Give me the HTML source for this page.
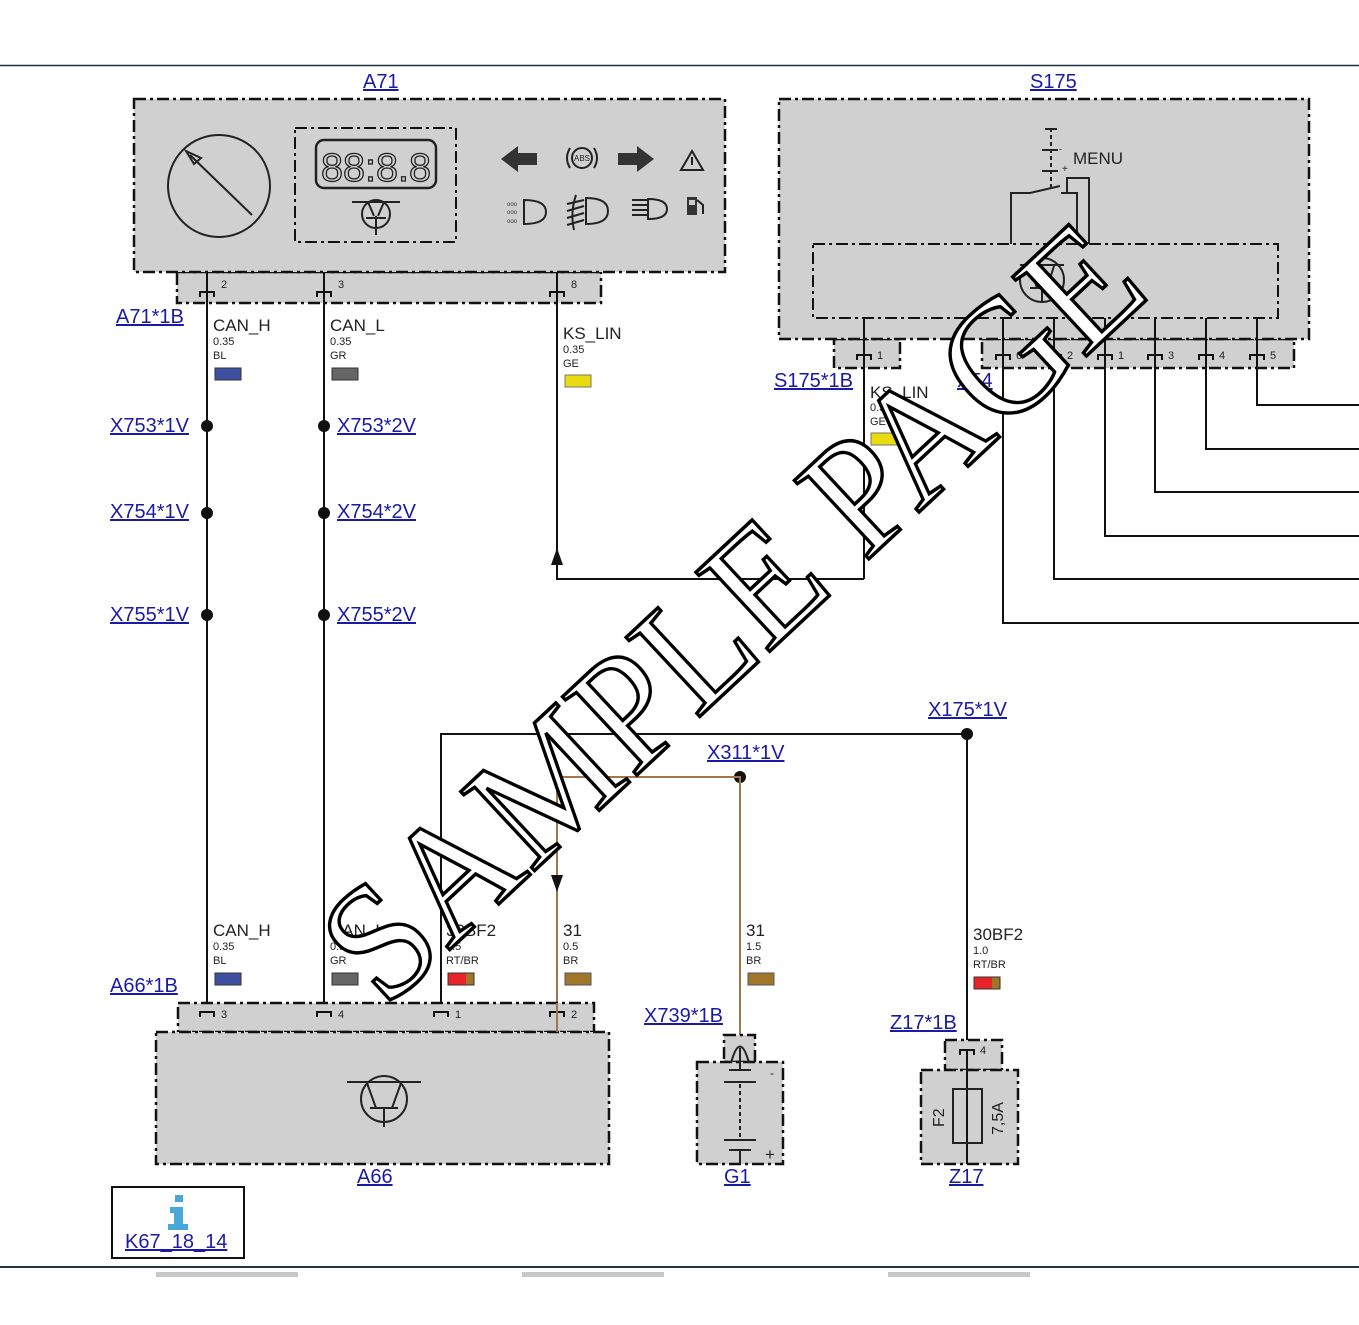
<!DOCTYPE html>
<html><head><meta charset="utf-8">
<style>
html,body{margin:0;padding:0;background:#fff;}
svg{display:block;}
.sf{font-family:"Liberation Sans",sans-serif;}
.lk{fill:#1a1aa8;font-size:20px;text-decoration:underline;}
.wn{font-size:17px;fill:#222;}
.ws{font-size:11px;fill:#222;}
.pn{font-size:11px;fill:#222;}
.box{fill:#d0d0d0;stroke:#111;stroke-width:2.5;stroke-dasharray:12 4 3 4;}
.w{stroke:#111;stroke-width:2;fill:none;}
.br{stroke:#a0764a;stroke-width:2;fill:none;}
.sym{stroke:#222;stroke-width:2;fill:none;}
</style></head>
<body>
<svg width="1359" height="1325" viewBox="0 0 1359 1325" xmlns="http://www.w3.org/2000/svg" font-family="Liberation Sans, sans-serif">
<rect width="1359" height="1325" fill="#fff"/>
<line x1="0" y1="65.5" x2="1359" y2="65.5" stroke="#1e2e3a" stroke-width="1.5"/>
<line x1="0" y1="1267" x2="1359" y2="1267" stroke="#1e3a3a" stroke-width="2"/>
<rect x="156" y="1272" width="142" height="5" fill="#c8c8c8"/>
<rect x="522" y="1272" width="142" height="5" fill="#c8c8c8"/>
<rect x="888" y="1272" width="142" height="5" fill="#c8c8c8"/>

<!-- A71 -->
<text class="lk" x="363" y="88">A71</text>
<rect class="box" x="177" y="272" width="424" height="31"/>
<rect class="box" x="134" y="99" width="591" height="173"/>
<circle cx="219" cy="186" r="51" class="sym"/>
<line x1="252" y1="215" x2="190" y2="155" class="sym"/>
<path d="M186 151 L201 158 L194 164 Z" class="sym" fill="none"/>
<rect x="295" y="128" width="161" height="114" fill="none" stroke="#111" stroke-width="2" stroke-dasharray="12 4 3 4"/>
<rect x="316" y="140" width="120" height="48" rx="8" fill="none" stroke="#222" stroke-width="2.5"/>
<text x="321" y="181" font-size="40" font-family="Liberation Sans Narrow, Liberation Sans, sans-serif" fill="none" stroke="#222" stroke-width="1.3" textLength="110" lengthAdjust="spacingAndGlyphs">88:8.8</text>
<circle cx="376" cy="214" r="14" class="sym"/>
<line x1="352" y1="202" x2="400" y2="202" class="sym"/>
<line x1="368" y1="202" x2="374" y2="216" class="sym"/>
<line x1="384" y1="202" x2="378" y2="216" class="sym"/>
<line x1="376" y1="216" x2="376" y2="235" class="sym"/>
<line x1="366" y1="218" x2="386" y2="218" class="sym"/>
<!-- icons -->
<path d="M501 159 L518 146 L518 153 L537 153 L537 165 L518 165 L518 172 Z" fill="#333"/>
<path d="M654 159 L637 146 L637 153 L618 153 L618 165 L637 165 L637 172 Z" fill="#333"/>
<circle cx="582" cy="158" r="10" class="sym" stroke-width="1.5"/>
<text x="574" y="161" font-size="8" fill="#222">ABS</text>
<path d="M570 148 Q564 158 570 168 M594 148 Q600 158 594 168" class="sym" stroke-width="1.5"/>
<path d="M692 151 L703 170 L681 170 Z" class="sym" stroke-width="1.5"/>
<line x1="692" y1="157" x2="692" y2="165" class="sym" stroke-width="1.5"/>
<path d="M524 200 Q546 200 546 212 Q546 224 524 224 Z" class="sym" stroke-width="1.8"/>
<text x="507" y="206" font-size="6" fill="#333">ooo</text><text x="507" y="214" font-size="6" fill="#333">ooo</text><text x="507" y="223" font-size="6" fill="#333">ooo</text>
<path d="M586 198 Q608 198 608 211 Q608 224 586 224 Z" class="sym" stroke-width="1.8"/>
<path d="M567 204 L584 200 M567 211 L584 206 M567 218 L584 213 M567 225 L584 220 M576 195 Q570 212 574 230" class="sym" stroke-width="1.5"/>
<path d="M648 199 Q667 199 667 209 Q667 219 648 219 Z" class="sym" stroke-width="1.8"/>
<path d="M632 200 H648 M632 205 H648 M632 210 H648 M632 215 H648" class="sym" stroke-width="1.5"/>
<rect x="687" y="197" width="10" height="18" fill="#333"/>
<rect x="689" y="200" width="6" height="5" fill="#ccc"/>
<path d="M697 200 L703 205 L703 214" class="sym" stroke-width="1.5"/>
<!-- pins A71 -->
<g class="w">
<path d="M200 297 V292 H214 V297"/><path d="M317 297 V292 H331 V297"/><path d="M550 297 V292 H564 V297"/>
</g>
<text class="pn" x="221" y="288">2</text><text class="pn" x="338" y="288">3</text><text class="pn" x="571" y="288">8</text>
<text class="lk" x="116" y="323">A71*1B</text>

<!-- S175 -->
<text class="lk" x="1030" y="88">S175</text>
<rect class="box" x="834" y="339" width="66" height="29"/>
<rect class="box" x="982" y="339" width="312" height="29"/>
<rect class="box" x="779" y="99" width="530" height="240"/>
<rect x="813" y="244" width="465" height="74" fill="none" stroke="#111" stroke-width="2" stroke-dasharray="12 4 3 4"/>
<line x1="1051" y1="128" x2="1051" y2="188" stroke="#222" stroke-width="2" stroke-dasharray="4 3"/>
<path d="M1045 129 H1057 M1042 150 H1058 M1042 171 H1058" class="sym"/>
<text x="1059" y="152" font-size="9" fill="#222">-</text><text x="1062" y="172" font-size="10" fill="#222">+</text>
<text x="1073" y="164" font-size="17" fill="#222">MENU</text>
<path d="M1011 244 V193 H1030 L1060 186 M1067 193 V178 H1089 V244 M1061 193 H1077 V244" class="sym"/>
<circle cx="1042" cy="280" r="22" class="sym"/>
<line x1="1020" y1="265" x2="1064" y2="265" class="sym"/>
<line x1="1030" y1="266" x2="1037" y2="288" class="sym"/>
<line x1="1054" y1="266" x2="1047" y2="288" class="sym"/>
<line x1="1030" y1="288" x2="1054" y2="288" class="sym"/>
<line x1="1042" y1="288" x2="1042" y2="302" class="sym"/>
<g class="w">
<path d="M857 360 V355 H871 V360"/>
<path d="M996 360 V355 H1010 V360"/><path d="M1047 360 V355 H1061 V360"/><path d="M1098 360 V355 H1112 V360"/>
<path d="M1148 360 V355 H1162 V360"/><path d="M1199 360 V355 H1213 V360"/><path d="M1250 360 V355 H1264 V360"/>
<path d="M864 318 V579"/>
<path d="M1003 318 V623 H1359"/><path d="M1054 318 V579 H1359"/><path d="M1105 318 V536 H1359"/>
<path d="M1155 318 V492 H1359"/><path d="M1206 318 V449 H1359"/><path d="M1257 318 V405 H1359"/>
</g>
<text class="pn" x="877" y="359">1</text><text class="pn" x="1016" y="359">6</text><text class="pn" x="1067" y="359">2</text>
<text class="pn" x="1118" y="359">1</text><text class="pn" x="1168" y="359">3</text><text class="pn" x="1219" y="359">4</text><text class="pn" x="1270" y="359">5</text>
<text class="lk" x="774" y="387">S175*1B</text>
<text class="lk" x="957" y="387">X54</text>
<text class="wn" x="870" y="398">KS_LIN</text><text class="ws" x="870" y="411">0.35</text><text class="ws" x="870" y="425">GE</text>
<rect x="871" y="433" width="26" height="12" fill="#e8dc10" stroke="#776" stroke-width="1"/>

<!-- A71 wires -->
<g class="w">
<path d="M207 272 V1032"/><path d="M324 272 V1032"/>
<path d="M557 272 V579 H864"/>
<path d="M441 1032 V734 H967 V1060"/>
</g>
<path d="M557 548 L551 565 L563 565 Z" fill="#111"/>
<text class="wn" x="213" y="331">CAN_H</text><text class="ws" x="213" y="345">0.35</text><text class="ws" x="213" y="359">BL</text>
<rect x="215" y="368" width="26" height="12" fill="#3c4fa0" stroke="#333" stroke-width="1"/>
<text class="wn" x="330" y="331">CAN_L</text><text class="ws" x="330" y="345">0.35</text><text class="ws" x="330" y="359">GR</text>
<rect x="332" y="368" width="26" height="12" fill="#666" stroke="#333" stroke-width="1"/>
<text class="wn" x="563" y="339">KS_LIN</text><text class="ws" x="563" y="353">0.35</text><text class="ws" x="563" y="367">GE</text>
<rect x="565" y="375" width="26" height="12" fill="#e8dc10" stroke="#776" stroke-width="1"/>
<g fill="#111">
<circle cx="207" cy="426" r="6"/><circle cx="324" cy="426" r="6"/>
<circle cx="207" cy="513" r="6"/><circle cx="324" cy="513" r="6"/>
<circle cx="207" cy="615" r="6"/><circle cx="324" cy="615" r="6"/>
<circle cx="967" cy="734" r="6"/><circle cx="740" cy="777" r="6"/>
</g>
<text class="lk" x="110" y="432">X753*1V</text><text class="lk" x="337" y="432">X753*2V</text>
<text class="lk" x="110" y="518">X754*1V</text><text class="lk" x="337" y="518">X754*2V</text>
<text class="lk" x="110" y="621">X755*1V</text><text class="lk" x="337" y="621">X755*2V</text>
<text class="lk" x="928" y="716">X175*1V</text>
<text class="lk" x="707" y="759">X311*1V</text>
<!-- brown -->
<path class="br" d="M557 1032 V777 H740 V1048"/>
<path d="M557 892 L551 875 L563 875 Z" fill="#111"/>

<!-- A66 -->
<rect class="box" x="178" y="1003" width="416" height="29"/>
<rect class="box" x="156" y="1032" width="453" height="132"/>
<g class="w">
<path d="M200 1017 V1012 H214 V1017"/><path d="M317 1017 V1012 H331 V1017"/><path d="M434 1017 V1012 H448 V1017"/><path d="M550 1017 V1012 H564 V1017"/>
</g>
<line x1="557" y1="1003" x2="557" y2="1032" class="br"/>
<text class="pn" x="221" y="1018">3</text><text class="pn" x="338" y="1018">4</text><text class="pn" x="455" y="1018">1</text><text class="pn" x="571" y="1018">2</text>
<circle cx="384" cy="1099" r="23" class="sym"/>
<line x1="347" y1="1082" x2="421" y2="1082" class="sym"/>
<line x1="367" y1="1083" x2="376" y2="1108" class="sym"/>
<line x1="401" y1="1083" x2="392" y2="1108" class="sym"/>
<line x1="370" y1="1108" x2="398" y2="1108" class="sym"/>
<line x1="384" y1="1108" x2="384" y2="1127" class="sym"/>
<text class="lk" x="357" y="1183">A66</text>
<text class="lk" x="110" y="992">A66*1B</text>
<text class="wn" x="213" y="936">CAN_H</text><text class="ws" x="213" y="950">0.35</text><text class="ws" x="213" y="964">BL</text>
<rect x="215" y="973" width="26" height="12" fill="#3c4fa0" stroke="#333" stroke-width="1"/>
<text class="wn" x="330" y="936">CAN_L</text><text class="ws" x="330" y="950">0.35</text><text class="ws" x="330" y="964">GR</text>
<rect x="332" y="973" width="26" height="12" fill="#666" stroke="#333" stroke-width="1"/>
<text class="wn" x="446" y="936">30BF2</text><text class="ws" x="446" y="950">0.5</text><text class="ws" x="446" y="964">RT/BR</text>
<rect x="448" y="973" width="18" height="12" fill="#e8242a"/><rect x="466" y="973" width="8" height="12" fill="#a0762a"/>
<rect x="448" y="973" width="26" height="12" fill="none" stroke="#333" stroke-width="1"/>
<text class="wn" x="563" y="936">31</text><text class="ws" x="563" y="950">0.5</text><text class="ws" x="563" y="964">BR</text>
<rect x="565" y="973" width="26" height="12" fill="#a0762a" stroke="#555" stroke-width="1"/>
<text class="wn" x="746" y="936">31</text><text class="ws" x="746" y="950">1.5</text><text class="ws" x="746" y="964">BR</text>
<rect x="748" y="973" width="26" height="12" fill="#a0762a" stroke="#555" stroke-width="1"/>
<text class="wn" x="973" y="940">30BF2</text><text class="ws" x="973" y="954">1.0</text><text class="ws" x="973" y="968">RT/BR</text>
<rect x="974" y="977" width="18" height="12" fill="#e8242a"/><rect x="992" y="977" width="8" height="12" fill="#a0762a"/>
<rect x="974" y="977" width="26" height="12" fill="none" stroke="#333" stroke-width="1"/>

<!-- G1 -->
<rect class="box" x="724" y="1035" width="31" height="27"/>
<rect class="box" x="697" y="1062" width="86" height="102"/>
<path d="M731 1063 Q740 1030 749 1063 M740 1048 V1070 M729 1070 H751 M724 1082 H756 M724 1140 H756 M729 1150 H751 M740 1150 V1164" class="sym"/>
<line x1="740" y1="1084" x2="740" y2="1140" stroke="#222" stroke-width="2" stroke-dasharray="4 3"/>
<text x="770" y="1077" font-size="12" fill="#222">-</text><text x="765" y="1160" font-size="17" fill="#222">+</text>
<text class="lk" x="724" y="1183">G1</text>
<text class="lk" x="644" y="1022">X739*1B</text>
<!-- Z17 -->
<rect class="box" x="945" y="1040" width="57" height="30"/>
<rect class="box" x="921" y="1070" width="97" height="94"/>
<path d="M960 1055 V1050 H974 V1055" class="w"/>
<text class="pn" x="980" y="1054">4</text>
<line x1="967" y1="1050" x2="967" y2="1164" class="w"/>
<rect x="953" y="1089" width="29" height="54" fill="none" stroke="#222" stroke-width="2"/>
<text font-size="16" fill="#222" transform="translate(944,1127) rotate(-90)">F2</text>
<text font-size="16" fill="#222" transform="translate(1003,1135) rotate(-90)">7,5A</text>
<text class="lk" x="949" y="1183">Z17</text>
<text class="lk" x="890" y="1029">Z17*1B</text>
<!-- info -->
<rect x="112" y="1187" width="132" height="71" fill="#fff" stroke="#111" stroke-width="2"/>
<rect x="175" y="1195" width="8" height="7" fill="#4aa8d8"/>
<path d="M170 1207 H183 V1224 H188 V1230 H168 V1224 H174 V1213 H170 Z" fill="#4aa8d8"/>
<text class="lk" x="125" y="1248">K67_18_14</text>

<!-- watermark -->
<text x="0" y="0" transform="translate(385,1010) rotate(-43)" style="font-family:'Liberation Serif',serif;font-size:165px" fill="#fff" stroke="#000" stroke-width="3.5" textLength="1050" lengthAdjust="spacingAndGlyphs">SAMPLE PAGE</text>
</svg>
</body></html>
